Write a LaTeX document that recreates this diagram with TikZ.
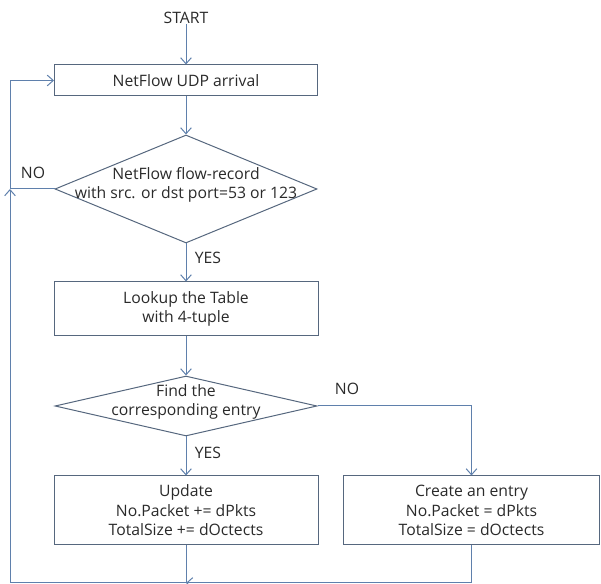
\documentclass[tikz,border=0pt]{standalone}
\usepackage{fontspec}
\setmainfont{Open Sans}
\usetikzlibrary{shapes.geometric,arrows.meta}
\definecolor{flowline}{HTML}{5F80AC}
\definecolor{boxline}{HTML}{56677E}
\definecolor{ink}{HTML}{2A2A2A}
\begin{document}
\begin{tikzpicture}[x=0.75pt,y=-0.75pt,
  font=\fontsize{11.8}{14.6}\selectfont, text=ink,
  stepbox/.style={draw=boxline, line width=0.75pt, rectangle, inner sep=0pt, align=center},
  decision/.style={draw=boxline, line width=0.75pt, diamond, inner sep=0pt},
  flow/.style={draw=flowline, line width=0.75pt},
  arr/.style={flow, -{Straight Barb[length=4.5pt,width=8pt]}},
  tag/.style={inner sep=0pt}]
  \useasboundingbox (0,0) rectangle (601,584);

  % start label and process boxes
  \node[tag] (start) at (186,18) {START};
  \node[stepbox, minimum width=197.25pt, minimum height=23.25pt] (arrival) at (186,80.5) {NetFlow UDP arrival};
  \node[decision, minimum width=196.5pt, minimum height=81pt,
        label={[align=center, yshift=3pt]center:NetFlow flow-record\\with src. or dst port=53 or 123}] (port) at (186,189) {};
  \node[stepbox, minimum width=198pt, minimum height=40.5pt] (lookup) at (186,309) {Lookup the Table\\with 4-tuple};
  \node[decision, minimum width=196.5pt, minimum height=45pt,
        label={[align=center, yshift=3pt]center:Find the\\corresponding entry}] (found) at (186,406) {};
  \node[stepbox, minimum width=198pt, minimum height=51.75pt] (update) at (186,510.5) {Update\\No.Packet += dPkts\\TotalSize += dOctects};
  \node[stepbox, minimum width=192pt, minimum height=51.75pt] (create) at (471.5,510.5) {Create an entry\\No.Packet = dPkts\\TotalSize = dOctects};

  % branch labels
  \node[tag] (no1) at (33,173) {NO};
  \node[tag] (yes1) at (208,258) {YES};
  \node[tag] (no2) at (347,389) {NO};
  \node[tag] (yes2) at (208,453) {YES};

  % junction points of the loop back
  \coordinate (loopj) at (10,189);
  \coordinate (merge) at (186,583);
  \coordinate (corner) at (10,583);

  % main flow
  \draw[arr] (start) -- (arrival);
  \draw[arr] (arrival) -- (port);
  \draw[arr] (port) -- (lookup);
  \draw[arr] (lookup) -- (found);
  \draw[arr] (found) -- (update);
  \draw[arr] (found.east) -| (create.north);

  % loop back to the arrival box
  \draw[flow] (port.west) -- (loopj);
  \draw[arr] (loopj) |- (arrival.west);
  \draw[arr] (create.south) |- (merge);
  \draw[flow] (update.south) -- (merge) -- (corner);
  \draw[arr] (corner) -- (loopj);
\end{tikzpicture}
\end{document}
